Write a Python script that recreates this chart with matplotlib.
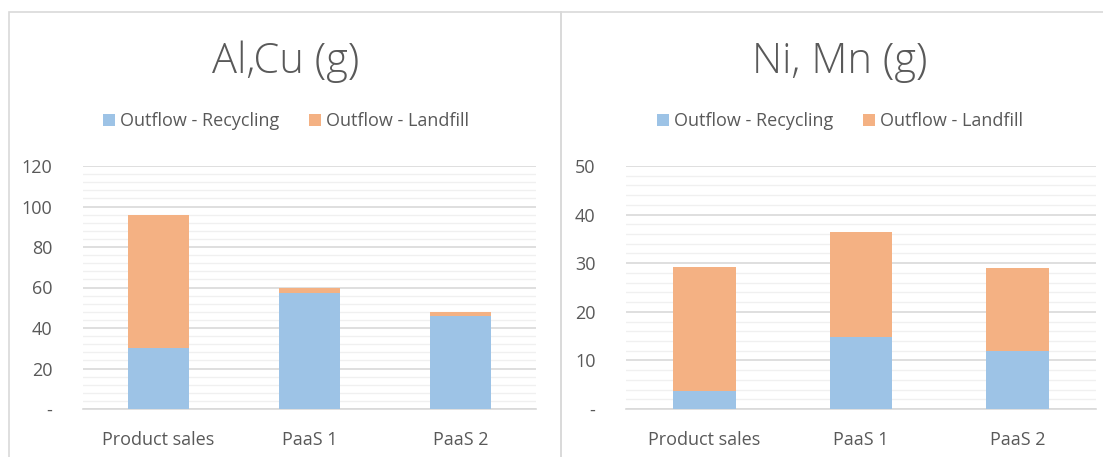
import matplotlib.pyplot as plt
from matplotlib.patches import Rectangle
from matplotlib.ticker import MultipleLocator, FuncFormatter

categories = ["Product sales", "PaaS 1", "PaaS 2"]
series = ["Outflow - Recycling", "Outflow - Landfill"]

alcu_recycling = [30, 57.5, 46]
alcu_landfill = [66, 2.5, 2]

nimn_recycling = [3.8, 14.8, 11.9]
nimn_landfill = [25.4, 21.6, 17.2]

blue = "#9DC3E6"
orange = "#F4B183"
text_col = "#595959"

plt.rcParams['font.family'] = ['Open Sans', 'DejaVu Sans']

W, H = 1103, 457
fig = plt.figure(figsize=(W / 100, H / 100), dpi=100)

# panel borders
for x0, w in [(9, 552), (561, 560)]:
    fig.patches.append(Rectangle((x0 / W, -0.1), w / W, (H - 12) / H + 0.1,
                                 transform=fig.transFigure, fill=False,
                                 edgecolor="#D9D9D9", lw=1.2))


def tick_fmt(v, pos):
    return "-" if abs(v) < 1e-9 else "%d" % v


def draw_panel(rect, title, rec, land, ymax, major, minor, cx):
    ax = fig.add_axes(rect)
    x = range(len(categories))
    ax.bar(x, rec, width=0.4, color=blue, label=series[0], zorder=3)
    ax.bar(x, land, width=0.4, bottom=rec, color=orange, label=series[1], zorder=3)
    ax.set_xlim(-0.5, 2.5)
    ax.set_ylim(0, ymax)
    ax.yaxis.set_major_locator(MultipleLocator(major))
    ax.yaxis.set_minor_locator(MultipleLocator(minor))
    ax.yaxis.set_major_formatter(FuncFormatter(tick_fmt))
    ax.grid(axis="y", which="major", color="#D9D9D9", lw=1.2, zorder=0)
    ax.grid(axis="y", which="minor", color="#F0F0F0", lw=1.0, zorder=0)
    for s in ["top", "right", "left"]:
        ax.spines[s].set_visible(False)
    ax.spines["bottom"].set_color("#D9D9D9")
    ax.spines["bottom"].set_linewidth(1.2)
    ax.set_xticks(list(x))
    ax.set_xticklabels(categories)
    ax.tick_params(axis="both", which="both", length=0, colors=text_col, labelsize=13)
    ax.tick_params(axis="x", pad=16)
    ax.tick_params(axis="y", pad=22)
    fig.text(cx / W, 1 - 73 / H, title, ha="center", va="baseline",
             fontsize=30, color=text_col, fontweight="light")
    handles, labels = ax.get_legend_handles_labels()
    leg = fig.legend(handles, labels, loc="center", bbox_to_anchor=(cx / W, 1 - 121 / H),
                     ncol=2, frameon=False, fontsize=13, handlelength=0.67,
                     handleheight=0.67, handletextpad=0.3, columnspacing=1.6)
    for t in leg.get_texts():
        t.set_color(text_col)
    return ax


draw_panel([83 / W, 48 / H, 453 / W, 243 / H], "Al,Cu (g)",
           alcu_recycling, alcu_landfill, 120, 20, 4, 286)
draw_panel([626 / W, 48 / H, 470 / W, 243 / H], "Ni, Mn (g)",
           nimn_recycling, nimn_landfill, 50, 10, 2, 840)

fig.savefig("out.png", dpi=100)
